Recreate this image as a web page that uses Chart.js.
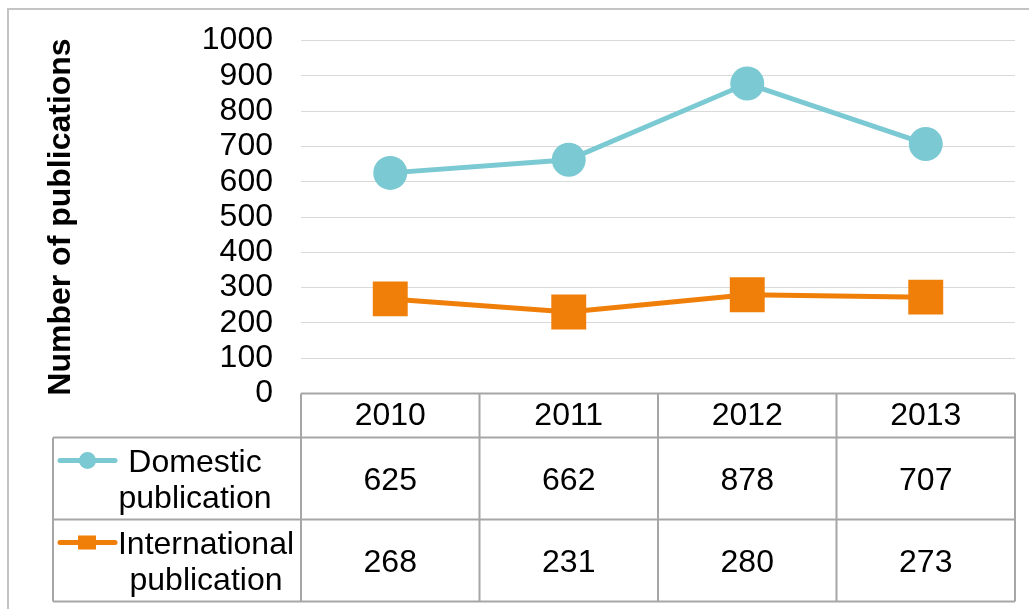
<!DOCTYPE html>
<html>
<head>
<meta charset="utf-8">
<script src="https://cdn.jsdelivr.net/npm/chart.js@4"></script>
<style>
  html, body { margin: 0; padding: 0; background: #fff; }
  #wrap { width: 1029px; height: 609px; position: relative; }
</style>
</head>
<body>
<div id="wrap"><canvas id="pubChart"></canvas></div>
<script>
// Data
const years = ['2010', '2011', '2012', '2013'];
const domestic = [625, 662, 878, 707];
const international = [268, 231, 280, 273];
const seriesNames = [['Domestic', 'publication'], ['International', 'publication']];
const yTicks = [0, 100, 200, 300, 400, 500, 600, 700, 800, 900, 1000];

const TEAL = '#7bc9d2';
const ORANGE = '#f07f09';
const TABLE_LINE = '#a6a6a6';
const FONT = '"Liberation Sans", Arial, sans-serif';

// Draws the Excel-style data table under the plot, plus the frame
const dataTable = {
    id: 'dataTable',
    afterDraw(chart) {
        const ctx = chart.ctx;
        const area = chart.chartArea;
        const x = chart.scales.x;
        const headerBottom = area.bottom + 44;
        const rowH = 82;
        const tableLeft = 53;
        const rows = [headerBottom, headerBottom + rowH, headerBottom + rowH * 2];

        // column boundaries from the category scale
        const bounds = [area.left];
        for (let i = 0; i < years.length - 1; i++) {
            bounds.push((x.getPixelForValue(i) + x.getPixelForValue(i + 1)) / 2);
        }
        bounds.push(area.right);

        ctx.save();
        // outer frame (only top and left visible)
        ctx.strokeStyle = '#c4c4c4';
        ctx.lineWidth = 2;
        ctx.beginPath();
        ctx.moveTo(7, 9); ctx.lineTo(chart.width, 9);
        ctx.moveTo(8, 9); ctx.lineTo(8, chart.height);
        ctx.stroke();

        // grid of the table
        ctx.strokeStyle = TABLE_LINE;
        ctx.lineWidth = 2;
        ctx.beginPath();
        ctx.moveTo(area.left, area.bottom); ctx.lineTo(area.right, area.bottom);
        rows.forEach(r => { ctx.moveTo(tableLeft, r); ctx.lineTo(area.right, r); });
        bounds.forEach(b => { ctx.moveTo(b, area.bottom); ctx.lineTo(b, rows[2]); });
        ctx.moveTo(tableLeft, rows[0]); ctx.lineTo(tableLeft, rows[2]);
        ctx.stroke();

        // values
        ctx.fillStyle = '#000';
        ctx.font = '32px ' + FONT;
        ctx.textAlign = 'center';
        ctx.textBaseline = 'middle';
        [domestic, international].forEach((vals, r) => {
            const cy = rows[r] + rowH / 2 + 3;
            vals.forEach((v, i) => ctx.fillText(String(v), x.getPixelForValue(i), cy));
        });

        // legend keys + series names
        const keys = [
            { color: TEAL, shape: 'circle', textX: 195 },
            { color: ORANGE, shape: 'square', textX: 206 }
        ];
        keys.forEach((k, r) => {
            const center = rows[r] + rowH / 2;
            const ky = center - 18;
            ctx.strokeStyle = k.color;
            ctx.fillStyle = k.color;
            ctx.lineWidth = 5;
            ctx.lineCap = 'round';
            ctx.beginPath();
            ctx.moveTo(60, ky); ctx.lineTo(115, ky);
            ctx.stroke();
            if (k.shape === 'circle') {
                ctx.beginPath();
                ctx.arc(87.5, ky, 8.5, 0, Math.PI * 2);
                ctx.fill();
            } else {
                ctx.fillRect(78, ky - 7, 18, 14);
            }
            ctx.fillStyle = '#000';
            ctx.textBaseline = 'alphabetic';
            ctx.fillText(seriesNames[r][0], k.textX, center - 7);
            ctx.fillText(seriesNames[r][1], k.textX, center + 29);
        });
        ctx.restore();
    }
};

new Chart(document.getElementById('pubChart'), {
    type: 'line',
    data: {
        labels: years,
        datasets: [
            {
                label: seriesNames[0].join(' '),
                data: domestic,
                borderColor: TEAL,
                backgroundColor: TEAL,
                borderWidth: 5,
                pointStyle: 'circle',
                pointRadius: 17,
                pointBackgroundColor: TEAL,
                pointBorderColor: TEAL,
                pointBorderWidth: 0,
                tension: 0
            },
            {
                label: seriesNames[1].join(' '),
                data: international,
                borderColor: ORANGE,
                backgroundColor: ORANGE,
                borderWidth: 5,
                pointStyle: 'rect',
                pointRadius: 24.7,
                pointBackgroundColor: ORANGE,
                pointBorderColor: ORANGE,
                pointBorderWidth: 0,
                tension: 0
            }
        ]
    },
    options: {
        responsive: true,
        maintainAspectRatio: false,
        animation: false,
        layout: { autoPadding: false, padding: { left: 38, top: 40.5, right: 14, bottom: 171.5 } },
        plugins: {
            legend: { display: false },
            tooltip: { enabled: false }
        },
        scales: {
            x: {
                offset: true,
                grid: { display: false, drawTicks: false },
                border: { display: false },
                ticks: {
                    color: '#000',
                    padding: 3,
                    font: { family: FONT, size: 32 }
                },
                afterFit: s => { s.height = 44; }
            },
            y: {
                min: yTicks[0],
                max: yTicks[yTicks.length - 1],
                afterBuildTicks: s => { s.ticks = yTicks.map(v => ({ value: v })); },
                grid: { color: '#d9d9d9', lineWidth: 1, drawTicks: false },
                border: { display: false },
                ticks: {
                    autoSkip: false,
                    color: '#000',
                    padding: 28,
                    font: { family: FONT, size: 32 },
                    callback: v => String(v)
                },
                title: {
                    display: true,
                    text: 'Number of publications',
                    color: '#000',
                    font: { family: FONT, size: 32, weight: 'bold' }
                },
                afterFit: s => {
                    s.width = 263;
                    s.paddingTop = 0;
                    s.paddingBottom = 0;
                }
            }
        }
    },
    plugins: [dataTable]
});
</script>
</body>
</html>
